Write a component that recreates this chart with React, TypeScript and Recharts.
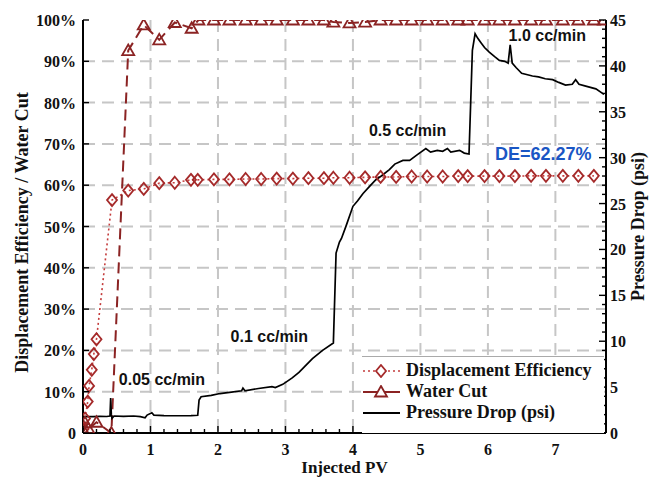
import React from "react";
import {
  ComposedChart,
  Line,
  XAxis,
  YAxis,
  ReferenceDot,
} from "recharts";

// displacement efficiency (%)
const dePV = [0.01, 0.03, 0.07, 0.09, 0.13, 0.16, 0.2, 0.43, 0.67, 0.9, 1.13, 1.36, 1.6, 1.7, 1.94, 2.17, 2.41, 2.64, 2.87, 3.11, 3.34, 3.57, 3.71, 3.95, 4.18, 4.41, 4.64, 4.87, 5.1, 5.33, 5.56, 5.7, 5.95, 6.17, 6.4, 6.64, 6.86, 7.11, 7.34, 7.57];
const deValue = [1, 3.5, 7.6, 11.4, 15.3, 19.1, 22.7, 56.4, 58.7, 59.1, 60.5, 60.6, 61.3, 61.3, 61.4, 61.4, 61.5, 61.5, 61.6, 61.6, 61.7, 61.7, 61.8, 61.8, 61.9, 62.0, 62.0, 62.1, 62.1, 62.1, 62.2, 62.2, 62.2, 62.2, 62.2, 62.27, 62.27, 62.27, 62.27, 62.27];

// water cut (%)
const wcPV = [0.01, 0.03, 0.08, 0.2, 0.42, 0.67, 0.9, 1.13, 1.36, 1.61, 1.71, 1.94, 2.17, 2.41, 2.64, 2.87, 3.11, 3.34, 3.57, 3.71, 3.95, 4.18, 4.41, 4.64, 4.87, 5.1, 5.33, 5.56, 5.7, 5.95, 6.17, 6.4, 6.64, 6.86, 7.11, 7.34, 7.57, 7.72];
const wcValue = [0.5, 2.5, 1.0, 2.6, 0, 92.6, 98.8, 95.2, 99.4, 98.0, 100, 100, 100, 100, 100, 100, 100, 100, 100, 99.5, 99.3, 99.5, 100, 100, 100, 100, 100, 100, 100, 100, 100, 100, 100, 100, 100, 100, 100, 100];

// pressure drop (psi)
const pdPV = [0, 0.05, 0.15, 0.25, 0.35, 0.4, 0.41, 0.42, 0.43, 0.46, 0.6, 0.75, 0.85, 0.92, 0.95, 1.02, 1.05, 1.2, 1.4, 1.6, 1.7, 1.72, 1.75, 1.9, 2.03, 2.2, 2.35, 2.37, 2.4, 2.6, 2.8, 2.85, 2.96, 3.1, 3.2, 3.28, 3.4, 3.55, 3.71, 3.75, 3.8, 3.83, 3.9, 4.0, 4.07, 4.15, 4.25, 4.34, 4.42, 4.54, 4.62, 4.74, 4.84, 4.95, 5.08, 5.15, 5.25, 5.33, 5.4, 5.45, 5.58, 5.65, 5.72, 5.77, 5.81, 5.85, 5.9, 5.95, 6.02, 6.1, 6.17, 6.25, 6.3, 6.33, 6.36, 6.42, 6.5, 6.66, 6.75, 6.85, 6.96, 7.05, 7.15, 7.25, 7.3, 7.35, 7.45, 7.6, 7.72];
const pdValue = [1.75, 1.8, 1.78, 1.82, 1.8, 1.85, 3.8, 2.0, 1.6, 1.85, 1.82, 1.85, 1.78, 1.65, 1.95, 2.2, 1.95, 1.9, 1.88, 1.9, 1.93, 3.6, 3.95, 4.1, 4.3, 4.45, 4.6, 4.9, 4.6, 4.85, 5.05, 4.95, 5.3, 6.0, 6.6, 7.2, 8.1, 9.0, 9.8, 19.6, 20.8, 21.2, 22.6, 24.7, 25.3, 26.1, 26.9, 27.6, 28.0, 28.7, 29.3, 29.7, 29.7, 30.3, 31.0, 30.6, 30.8, 30.7, 31.0, 30.6, 30.8, 30.5, 30.4, 41.7, 43.5, 43.0, 42.5, 42.0, 41.5, 41.0, 40.6, 40.5, 40.3, 42.3, 40.3, 39.8, 39.2, 38.9, 38.8, 38.6, 38.5, 38.2, 37.9, 38.0, 38.5, 38.0, 37.8, 37.5, 36.9];

const pvMajor = [0, 1, 2, 3, 4, 5, 6, 7];
const pvTicks = [0, 0.2, 0.4, 0.6, 0.8, 1, 1.2, 1.4, 1.6, 1.8, 2, 2.2, 2.4, 2.6, 2.8, 3, 3.2, 3.4, 3.6, 3.8, 4, 4.2, 4.4, 4.6, 4.8, 5, 5.2, 5.4, 5.6, 5.8, 6, 6.2, 6.4, 6.6, 6.8, 7, 7.2, 7.4, 7.6];
const pctTicks = [0, 10, 20, 30, 40, 50, 60, 70, 80, 90, 100];
const pctLabels = ["0", "10%", "20%", "30%", "40%", "50%", "60%", "70%", "80%", "90%", "100%"];
const psiTicks = [0, 1, 2, 3, 4, 5, 6, 7, 8, 9, 10, 11, 12, 13, 14, 15, 16, 17, 18, 19, 20, 21, 22, 23, 24, 25, 26, 27, 28, 29, 30, 31, 32, 33, 34, 35, 36, 37, 38, 39, 40, 41, 42, 43, 44, 45];
const gridX = [1, 2, 3, 4, 5, 6, 7];
const gridY = [10, 20, 30, 40, 50, 60, 70, 80, 90];
const PV_MAX = 7.75;

const notes = [
  { pv: 1.17, psi: 5.8, text: "0.05 cc/min", color: "#111", size: 16 },
  { pv: 2.76, psi: 10.5, text: "0.1 cc/min", color: "#111", size: 16 },
  { pv: 4.81, psi: 33.0, text: "0.5 cc/min", color: "#111", size: 16 },
  { pv: 6.88, psi: 43.3, text: "1.0 cc/min", color: "#111", size: 16 },
  { pv: 6.82, psi: 30.4, text: "DE=62.27%", color: "#1a56c4", size: 18 },
];

const deData = dePV.map((pv, i) => ({ pv, v: deValue[i] }));
const wcData = wcPV.map((pv, i) => ({ pv, v: wcValue[i] }));
const pdData = pdPV.map((pv, i) => ({ pv, v: pdValue[i] }));
// grid lines drawn as two-point series on the percent axis
const gridLines = [
  ...gridX.map((x) => ({ id: `gx${x}`, data: [{ pv: x, v: 100 }, { pv: x, v: 0 }] })),
  ...gridY.map((y) => ({ id: `gy${y}`, data: [{ pv: 0, v: y }, { pv: PV_MAX, v: y }] })),
];

const DE_COLOR = "#a52a2a";
const DE_LINE = "#c43c3c";
const WC_COLOR = "#8b2323";
const GRID = "#c6c6c6";
const SERIF = "'Liberation Serif', 'Times New Roman', serif";
const SANS = "'Liberation Sans', Arial, sans-serif";

const tickText = { fontFamily: SERIF, fontWeight: 700, fontSize: 16, fill: "#111" };

const BottomTick = ({ x, y, payload }: any) => {
  const major = pvMajor.includes(payload.value);
  return (
    <g>
      <line x1={x} y1={y} x2={x} y2={y - (major ? 7 : 4)} stroke="#000" strokeWidth={1.4} />
      {major && (
        <text x={x} y={y + 22} textAnchor="middle" {...tickText}>
          {payload.value}
        </text>
      )}
    </g>
  );
};

const TopTick = ({ x, y, payload }: any) => {
  const major = pvMajor.includes(payload.value);
  return <line x1={x} y1={y} x2={x} y2={y + (major ? 7 : 4)} stroke="#000" strokeWidth={1.4} />;
};

const LeftTick = ({ x, y, payload, index }: any) => (
  <g>
    <line x1={x} y1={y} x2={x + 6} y2={y} stroke="#000" strokeWidth={1.4} />
    <text x={x - 7} y={y + 6} textAnchor="end" {...tickText}>
      {pctLabels[index] ?? payload.value}
    </text>
  </g>
);

const RightTick = ({ x, y, payload }: any) => {
  const major = payload.value % 5 === 0;
  return (
    <g>
      <line x1={x} y1={y} x2={x - (major ? 7 : 4)} y2={y} stroke="#000" strokeWidth={1.4} />
      {major && (
        <text x={x + 4} y={y + 6} textAnchor="start" {...tickText}>
          {payload.value}
        </text>
      )}
    </g>
  );
};

const Diamond = (p: any) => {
  const { cx, cy, index } = p;
  if (cx == null || cy == null) return <g key={index} />;
  return (
    <path
      key={index}
      d={`M${cx},${cy - 6}L${cx + 5},${cy}L${cx},${cy + 6}L${cx - 5},${cy}Z`}
      fill="none"
      stroke={DE_COLOR}
      strokeWidth={1.8}
    />
  );
};

const Triangle = (p: any) => {
  const { cx, cy, index } = p;
  if (cx == null || cy == null) return <g key={index} />;
  return (
    <path
      key={index}
      d={`M${cx},${cy - 6}L${cx + 6},${cy + 4.5}L${cx - 6},${cy + 4.5}Z`}
      fill="none"
      stroke={WC_COLOR}
      strokeWidth={1.8}
    />
  );
};

const legendRows = [
  { name: "Displacement Efficiency", kind: "de" },
  { name: "Water Cut", kind: "wc" },
  { name: "Pressure Drop (psi)", kind: "pd" },
];

const LegendBox = () => (
  <div
    style={{
      position: "absolute",
      left: 362,
      top: 356,
      width: 242,
      height: 73,
      background: "#fff",
      borderTop: "1px solid #aaa",
      paddingTop: 3,
    }}
  >
    {legendRows.map((r) => (
      <div key={r.name} style={{ display: "flex", alignItems: "center", height: 21 }}>
        <svg width={42} height={14} style={{ marginRight: 2 }}>
          {r.kind === "de" && (
            <>
              <line x1={1} y1={7} x2={38} y2={7} stroke={DE_LINE} strokeWidth={1.6} strokeDasharray="2 3" />
              <path d="M19,1L24,7L19,13L14,7Z" fill="#fff" stroke={DE_COLOR} strokeWidth={1.8} />
            </>
          )}
          {r.kind === "wc" && (
            <>
              <line x1={1} y1={7} x2={38} y2={7} stroke={WC_COLOR} strokeWidth={2} />
              <path d="M19,1L25,11.5L13,11.5Z" fill="#fff" stroke={WC_COLOR} strokeWidth={1.8} />
            </>
          )}
          {r.kind === "pd" && <line x1={1} y1={7} x2={38} y2={7} stroke="#000" strokeWidth={2} />}
        </svg>
        <span style={{ fontFamily: SERIF, fontWeight: 700, fontSize: 18, color: "#111", whiteSpace: "nowrap" }}>
          {r.name}
        </span>
      </div>
    ))}
  </div>
);

export default function App() {
  return (
    <div style={{ position: "absolute", left: 0, top: 0, width: 653, height: 480, background: "#fff" }}>
      <ComposedChart width={653} height={480} margin={{ top: 20, right: 0, bottom: 0, left: 0 }}>
        <XAxis
          dataKey="pv"
          type="number"
          domain={[0, PV_MAX]}
          allowDataOverflow
          ticks={pvTicks}
          interval={0}
          height={47}
          tickSize={0}
          tickMargin={0}
          tick={<BottomTick />}
          axisLine={{ stroke: "#000", strokeWidth: 2 }}
          label={(props: any) => {
            const vb = props.viewBox;
            return (
              <text x={vb.x + vb.width / 2} y={vb.y + 40} textAnchor="middle" fontFamily={SERIF} fontWeight={700} fontSize={17} fill="#111">
                Injected PV
              </text>
            );
          }}
        />
        <XAxis
          xAxisId="top"
          orientation="top"
          type="number"
          domain={[0, PV_MAX]}
          allowDataOverflow
          ticks={pvTicks}
          interval={0}
          height={0}
          tickSize={0}
          tickMargin={0}
          tick={<TopTick />}
          axisLine={{ stroke: "#000", strokeWidth: 2 }}
        />
        <YAxis
          yAxisId="pct"
          type="number"
          domain={[0, 100]}
          allowDataOverflow
          ticks={pctTicks}
          interval={0}
          width={83}
          tickSize={0}
          tickMargin={0}
          tick={<LeftTick />}
          axisLine={{ stroke: "#000", strokeWidth: 2 }}
          label={(props: any) => {
            const vb = props.viewBox;
            const cx = vb.x + 22;
            const cy = vb.y + vb.height / 2 + 6;
            return (
              <text x={cx} y={cy} transform={`rotate(-90 ${cx} ${cy})`} textAnchor="middle" dominantBaseline="central" fontFamily={SERIF} fontWeight={700} fontSize={18} fill="#111">
                Displacement Efficiency / Water Cut
              </text>
            );
          }}
        />
        <YAxis
          yAxisId="psi"
          orientation="right"
          type="number"
          domain={[0, 45]}
          allowDataOverflow
          ticks={psiTicks}
          interval={0}
          width={47}
          tickSize={0}
          tickMargin={0}
          tick={<RightTick />}
          axisLine={{ stroke: "#000", strokeWidth: 2 }}
          label={(props: any) => {
            const vb = props.viewBox;
            const cx = vb.x + 32;
            const cy = vb.y + vb.height / 2;
            return (
              <text x={cx} y={cy} transform={`rotate(-90 ${cx} ${cy})`} textAnchor="middle" dominantBaseline="central" fontFamily={SERIF} fontWeight={700} fontSize={18} fill="#111">
                Pressure Drop (psi)
              </text>
            );
          }}
        />
        {gridLines.map((g) => (
          <Line
            key={g.id}
            yAxisId="pct"
            data={g.data}
            dataKey="v"
            type="linear"
            stroke={GRID}
            strokeWidth={2}
            strokeDasharray="12 7"
            dot={false}
            activeDot={false}
            legendType="none"
            isAnimationActive={false}
          />
        ))}
        <Line
          yAxisId="pct"
          data={deData}
          dataKey="v"
          name="Displacement Efficiency"
          type="linear"
          stroke={DE_LINE}
          strokeWidth={1.6}
          strokeDasharray="2 3"
          dot={Diamond}
          activeDot={false}
          isAnimationActive={false}
        />
        <Line
          yAxisId="pct"
          data={wcData}
          dataKey="v"
          name="Water Cut"
          type="linear"
          stroke={WC_COLOR}
          strokeWidth={2}
          strokeDasharray="11 6"
          dot={Triangle}
          activeDot={false}
          isAnimationActive={false}
        />
        <Line
          yAxisId="psi"
          data={pdData}
          dataKey="v"
          name="Pressure Drop (psi)"
          type="linear"
          stroke="#000"
          strokeWidth={1.7}
          dot={false}
          activeDot={false}
          isAnimationActive={false}
        />
        {notes.map((n) => (
          <ReferenceDot
            key={n.text}
            yAxisId="psi"
            x={n.pv}
            y={n.psi}
            r={0}
            shape={(p: any) => (
              <text x={p.cx} y={p.cy} textAnchor="middle" dominantBaseline="central" fontFamily={SANS} fontWeight={700} fontSize={n.size} fill={n.color}>
                {n.text}
              </text>
            )}
          />
        ))}
      </ComposedChart>
      <LegendBox />
    </div>
  );
}
